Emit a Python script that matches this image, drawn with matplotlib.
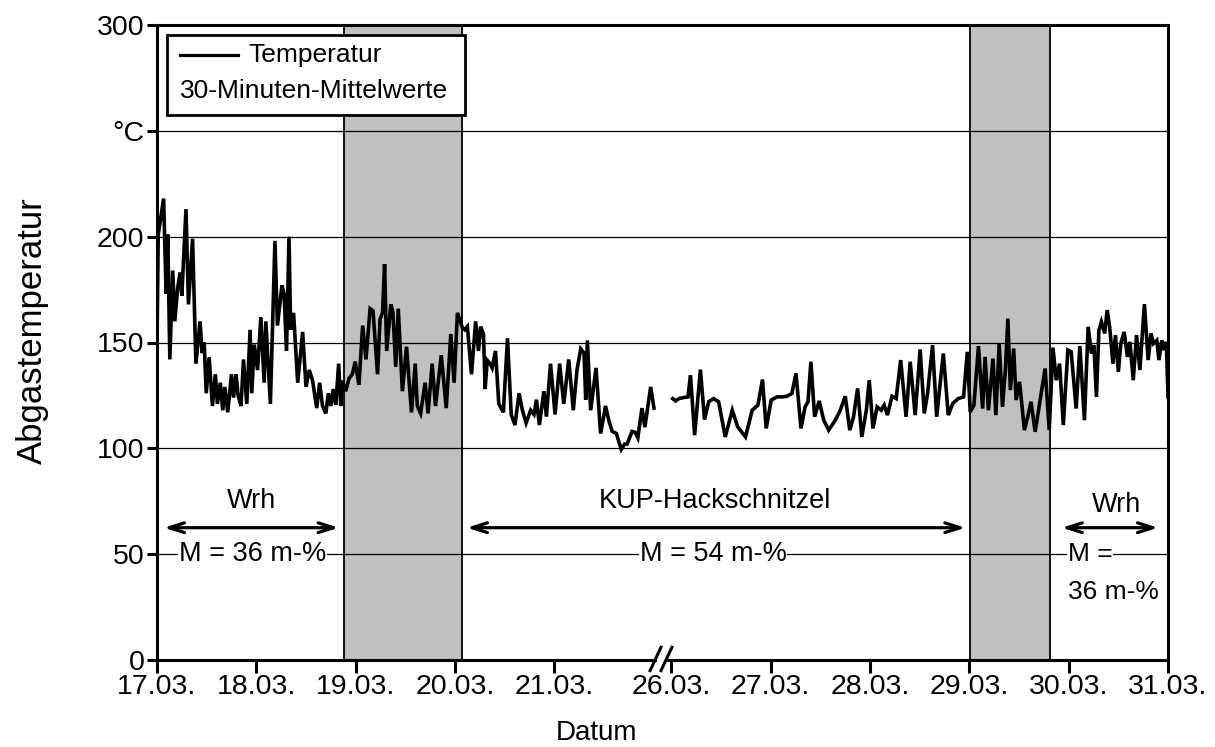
import matplotlib
matplotlib.use("Agg")
import matplotlib.pyplot as plt
from matplotlib.lines import Line2D
from matplotlib.patches import Rectangle

plt.rcParams['font.family'] = ['Liberation Sans', 'DejaVu Sans']

# ---------------- data ----------------
# Segment 1: hours since 17.03. 00:00
seg1_hours = [0, 0.3, 1.6, 2.2, 2.6, 3.1, 3.8, 4.3, 5.0, 5.6, 6.0, 7.0, 7.6, 8.6, 9.4, 10.4,
              10.9, 11.4, 11.9, 12.6, 13.4, 14.1, 14.6, 15.3, 15.9, 16.4, 17.1, 18.0, 18.5,
              19.1, 19.6, 20.3, 20.9, 21.7, 22.5, 22.9, 23.5, 24.3, 25.1, 25.9, 26.3, 27.4,
              28.5, 29.1, 30.2, 30.7, 31.3, 31.9, 32.3, 33.0, 34.0, 35.2, 36.0, 36.8, 37.6,
              38.6, 39.3, 40.0, 40.8, 41.4, 42.0, 42.6, 43.2, 43.9, 44.4, 44.8, 45.6, 46.4,
              47.2, 47.9, 48.8, 49.7, 50.5, 51.5, 52.2, 53.3, 53.9, 54.5, 55.0, 55.5, 56.5,
              57.0, 57.7, 58.3, 59.3, 60.3, 61.5, 62.4, 62.9, 63.7, 64.8, 65.5, 66.5, 67.3,
              68.7, 69.9, 71.0, 71.8, 72.6, 73.8, 74.4, 75.0, 76.0, 77.0, 77.7, 78.2, 78.9,
              79.3, 79.8, 80.5, 81.0, 81.8, 82.6, 83.7, 84.7, 85.6, 86.5, 87.5, 88.3, 89.2,
              90.3, 91.1, 91.7, 92.4, 93.5, 94.1, 95.1, 96.2, 97.3, 98.3, 99.5, 100.6, 101.5,
              102.4, 103.2, 103.6, 104.0, 104.8, 106.1, 107.2, 108.4, 109.2, 110.0, 111.0,
              112.2, 113.0, 113.6, 114.8, 115.6, 116.2, 117.2, 117.9, 119.3, 120.1]
seg1_temp = [150, 201, 218, 173, 201, 142, 184, 160, 176, 183, 172, 213, 168, 199, 140, 160,
             145, 150, 126, 143, 120, 135, 121, 131, 118, 129, 117, 135, 124,
             135, 125, 120, 142, 121, 156, 126, 149, 137, 162, 131, 160, 121,
             198, 158, 177, 173, 146, 200, 156, 164, 131, 155, 129, 137, 132,
             119, 131, 120, 116.5, 126, 120, 128, 120.5, 140, 120, 132, 127, 133,
             135, 141, 130, 158, 142, 166, 165, 135, 161, 164, 187, 146, 168,
             164.5, 138.5, 166, 127, 148, 117, 140, 120, 116.5, 131, 116.5, 140, 120,
             144, 119, 154, 131, 164, 157, 156, 157.5, 135, 160, 146, 157.5, 154,
             128, 141.6, 140, 138, 146, 121, 117, 152, 116, 111, 126, 118, 112,
             118, 116, 123, 111, 127, 115, 140, 116, 140, 121, 142, 118, 137,
             147, 145, 123, 151, 118, 138, 107, 120, 113, 108, 107,
             99.5, 102, 102, 108, 107.5, 105, 119, 110, 129, 119]

# Segment 2: hours since 26.03. 00:00
seg2_hours = [0.3, 1.0, 1.8, 3.0, 4.0, 4.6, 5.6, 7.0, 8.0, 9.0, 10.2, 11.4, 13.0, 14.7, 16.0,
              17.9, 19.5, 20.9, 22.0, 22.9, 24.1, 25.5, 26.7, 27.9, 29.1, 30.1, 31.3, 32.3,
              33.0, 33.7, 34.6, 35.7, 36.8, 38.0, 39.6, 40.8, 42.0, 43.1, 44.0, 45.0, 46.0,
              47.1, 47.8, 48.7, 49.7, 50.7, 51.4, 52.2, 53.3, 54.3, 55.4, 56.7, 57.7, 58.9,
              60.1, 61.1, 61.9, 63.1, 64.1, 65.7, 66.9, 68.0, 69.3, 70.6, 71.5, 72.2, 73.1,
              74.2, 75.2, 75.8, 76.6, 77.7, 78.4, 79.2, 80.0, 80.7, 81.3, 81.9, 82.7, 83.3,
              84.1, 84.5, 85.3, 86.1, 86.9, 87.9, 89.1, 90.3, 91.3, 92.2, 93.0, 93.8, 94.7,
              95.8, 96.6, 97.8, 98.7, 99.8, 100.7, 101.5, 102.1, 102.7, 103.3, 103.9, 104.7,
              105.3, 105.9, 106.7, 107.3, 108.0, 108.6, 109.4, 110.2, 110.8, 111.6, 112.4,
              113.2, 114.3, 115.2, 115.9, 116.5, 117.3, 117.8, 118.5, 119.1, 119.6, 120.0]
seg2_temp = [123.5, 122.4, 123.5, 124, 124.3, 134.6, 106.2, 137.2, 113.6, 122, 123.5, 122, 105.4,
             118, 110.2, 105.4, 118, 120.4, 132.5, 109.4, 122.8, 124.3, 124.3, 124.6, 125.9,
             135.4, 109.4, 119.6, 122, 140.9, 114.9, 122.4, 113.3, 108.6, 113.3, 118, 124.6,
             108.6, 114.9, 128.3, 105.4, 118, 132.2, 109.4, 119.6, 118, 120.4, 115.7, 124.6,
             123.5, 141.7, 114.9, 140.9, 115.7, 146.7, 116.5, 125.9, 148.7, 114.9, 144.8,
             115.7, 121.2, 123.5, 124.3, 145.6, 117.2, 120.4, 148.3, 118.8, 143.2, 118,
             142.4, 115.7, 149.5, 119.6, 137, 161.3, 127.5, 147.2, 122.8, 131.4, 124.3,
             108.6, 114.9, 122, 107.8, 122.8, 137.7, 108.6, 147.6, 132.2, 140, 111, 146.4,
             145.6, 118.8, 148.3, 113.3, 157.4, 144.8, 148.7, 124.3, 155.8, 159.8, 154.3,
             165.3, 157.4, 140, 153.5, 136.1, 149.5, 155, 143.2, 150.3, 132.2, 153.5, 137,
             168.1, 141.7, 154.3, 149.5, 151, 141.7, 151, 146.4, 150.3, 124.3]

seg1_tick_days = [0, 1, 2, 3, 4]
seg2_tick_days = [0, 1, 2, 3, 4, 5]
tick_labels = ["17.03.", "18.03.", "19.03.", "20.03.", "21.03.",
               "26.03.", "27.03.", "28.03.", "29.03.", "30.03.", "31.03."]
y_ticks = [0, 50, 100, 150, 200, 250, 300]
y_labels = ["0", "50", "100", "150", "200", "°C", "300"]

# shaded periods (hours): segment 1 and segment 2
shade1_hours = (45.1, 73.6)
shade2_hours = (72.2, 91.5)

GAP = 0.18  # width of axis break (days)


def x1(h):
    return h / 24.0


def x2(h):
    return 5 + GAP + h / 24.0


FS = 19.5
TFS = 20.5
fig = plt.figure(figsize=(12.15, 7.47), dpi=100)
ax = fig.add_axes([157 / 1215, 1 - 660 / 747, (1168 - 157) / 1215, (660 - 25) / 747])

ax.set_xlim(0, 5 + GAP + 5)
ax.set_ylim(0, 300)

# shading
for a, b in [(x1(shade1_hours[0]), x1(shade1_hours[1])),
             (x2(shade2_hours[0]), x2(shade2_hours[1]))]:
    ax.axvspan(a, b, facecolor="#c0c0c0", edgecolor="none", zorder=1)
    ax.axvline(a, color="black", lw=1.3, zorder=1.2)
    ax.axvline(b, color="black", lw=1.3, zorder=1.2)

# grid
for yv in y_ticks[1:-1]:
    ax.axhline(yv, color="black", lw=0.9, zorder=1.5)

# data
ax.plot([x1(h) for h in seg1_hours], seg1_temp, color="black", lw=2.6, zorder=4,
        solid_joinstyle="miter")
ax.plot([x2(h) for h in seg2_hours], seg2_temp, color="black", lw=2.6, zorder=4,
        solid_joinstyle="miter")

# axes
xt = [x1(d * 24) for d in seg1_tick_days] + [x2(d * 24) for d in seg2_tick_days]
ax.set_xticks(xt)
ax.set_xticklabels(tick_labels, fontsize=TFS)
ax.set_yticks(y_ticks)
ax.set_yticklabels(y_labels, fontsize=TFS)
ax.tick_params(axis="x", direction="out", length=9, width=2.2, pad=1)
ax.tick_params(axis="y", direction="out", length=7, width=2.2, pad=2)
for s in ax.spines.values():
    s.set_linewidth(2.2)
    s.set_zorder(5)

# axis break
bx1, bx2 = 5.02, 5.13
ax.plot([5.03, 5.12], [0, 0], color="white", lw=4, clip_on=False, zorder=6,
        solid_capstyle="butt")
for bx in (bx1, bx2):
    ax.plot([bx - 0.055, bx + 0.055], [-5, 6], color="black", lw=2.2, clip_on=False,
            zorder=7)

# legend box (manual)
ax.add_patch(Rectangle((0.0099, 0.858), 0.2947, 0.126, transform=ax.transAxes,
                       facecolor="white", edgecolor="black", lw=2.0, zorder=8))
ax.add_line(Line2D([0.0227, 0.0801], [0.953, 0.953], transform=ax.transAxes,
                   color="black", lw=2.3, zorder=9))
ax.text(0.090, 0.953, "Temperatur", transform=ax.transAxes, fontsize=19,
        va="center", ha="left", zorder=9)
ax.text(0.0227, 0.896, "30-Minuten-Mittelwerte", transform=ax.transAxes, fontsize=19,
        va="center", ha="left", zorder=9)

# annotations
arrow_y = 62.5
aprops = dict(arrowstyle="<->,head_length=1.1,head_width=0.35", color="black", lw=2.3,
              shrinkA=0, shrinkB=0)
ax.annotate("", xy=(0.07, arrow_y), xytext=(1.83, arrow_y), arrowprops=aprops, zorder=6)
ax.annotate("", xy=(3.12, arrow_y), xytext=(8.14, arrow_y), arrowprops=aprops, zorder=6)
ax.annotate("", xy=(9.11, arrow_y), xytext=(10.08, arrow_y), arrowprops=aprops, zorder=6)

ax.text(0.95, 75, "Wrh", fontsize=FS, ha="center", va="center", zorder=6)
ax.text(5.62, 75, "KUP-Hackschnitzel", fontsize=FS, ha="center", va="center", zorder=6)
ax.text(9.66, 73, "Wrh", fontsize=FS, ha="center", va="center", zorder=6)

wb = dict(facecolor="white", edgecolor="none", pad=0.5)
ax.text(0.22, 50, "M = 36 m-%", fontsize=FS, ha="left", va="center", bbox=wb, zorder=6)
ax.text(4.86, 50, "M = 54 m-%", fontsize=FS, ha="left", va="center", bbox=wb, zorder=6)
ax.text(9.17, 50, "M =", fontsize=19, ha="left", va="center", bbox=wb, zorder=6)
ax.text(9.17, 32, "36 m-%", fontsize=19, ha="left", va="center", zorder=6)

fig.text(32 / 1215, 1 - 331 / 747, "Abgastemperatur", rotation=90, fontsize=25,
         ha="center", va="center")
fig.text(597 / 1215, 1 - 733 / 747, "Datum", fontsize=20, ha="center", va="center")

fig.savefig("out.png", dpi=100)
